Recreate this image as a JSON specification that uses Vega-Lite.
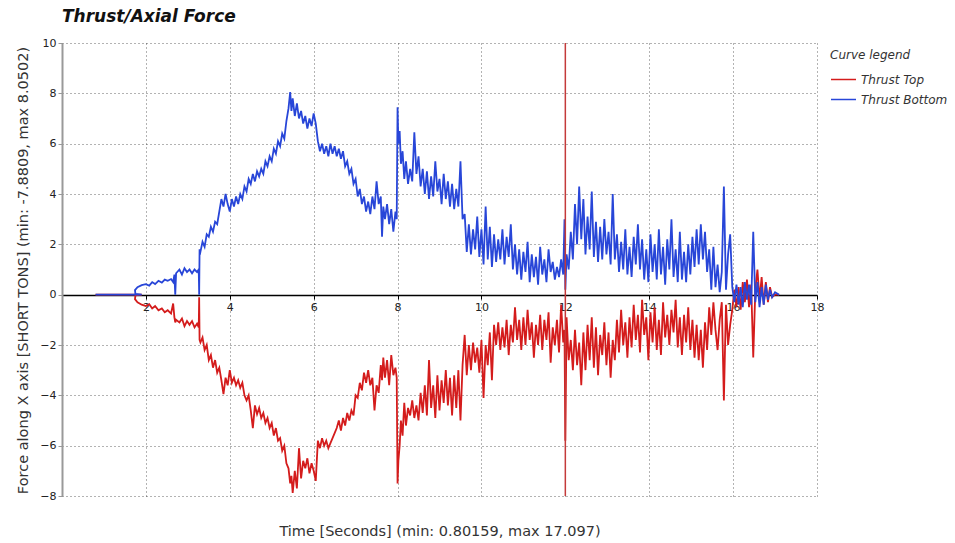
{
"$schema": "https://vega.github.io/schema/vega-lite/v6.json",
"width": 755, "height": 453,
"autosize": {"type": "none"},
"padding": {"left": 62, "top": 43, "right": 138, "bottom": 47},
"background": "white",
"title": {"text": "Thrust/Axial Force", "anchor": "start", "frame": "group", "offset": 11, "font": "DejaVu Sans", "fontSize": 17, "fontWeight": "bold", "fontStyle": "italic", "color": "#111"},
"config": {
  "font": "DejaVu Sans",
  "view": {"stroke": null},
  "axis": {"labelFont": "DejaVu Sans", "labelFontSize": 11, "labelColor": "#222", "titleFont": "DejaVu Sans", "titleFontSize": 14.5, "titleFontWeight": "normal", "titleColor": "#333", "gridColor": "#333", "gridDash": [1, 3], "gridOpacity": 0.75, "gridWidth": 1}
},
"layer": [
{
"data": {"values": [
{"t":0.8,"b":0,"r":0},{"t":1.5,"b":0,"r":0},{"t":1.9,"b":0,"r":0},{"t":1.75,"b":0.03,"r":-0.03},{"t":1.74,"b":0.18,"r":-0.18},{"t":1.8,"b":0.3,"r":-0.3},{"t":1.9,"b":0.38,"r":-0.4},{"t":2.0,"b":0.42,"r":-0.45},{"t":2.08,"b":0.36,"r":-0.38},{"t":2.15,"b":0.5,"r":-0.55},{"t":2.22,"b":0.42,"r":-0.45},{"t":2.3,"b":0.55,"r":-0.62},{"t":2.38,"b":0.48,"r":-0.55},{"t":2.45,"b":0.6,"r":-0.7},{"t":2.52,"b":0.55,"r":-0.62},{"t":2.6,"b":0.62,"r":-0.75},{"t":2.65,"b":0.5,"r":-0.35},{"t":2.68,"b":0.8,"r":-0.9},{"t":2.7,"b":0.0,"r":-1.1},{"t":2.72,"b":0.85,"r":-1.0},{"t":2.8,"b":1.0,"r":-1.1},{"t":2.86,"b":0.8,"r":-0.95},{"t":2.92,"b":1.05,"r":-1.25},{"t":2.98,"b":0.9,"r":-1.05},{"t":3.04,"b":1.0,"r":-1.2},{"t":3.1,"b":0.85,"r":-1.05},{"t":3.16,"b":1.0,"r":-1.3},{"t":3.22,"b":0.9,"r":-1.15},{"t":3.26,"b":1.0,"r":-1.3},{"t":3.27,"b":0.0,"r":-0.1},{"t":3.28,"b":1.8,"r":-1.8},
{"t":3.30,"b":1.7,"r":-1.9},{"t":3.35,"b":2.1,"r":-1.7},{"t":3.40,"b":1.9,"r":-2.2},{"t":3.45,"b":2.4,"r":-2.0},{"t":3.50,"b":2.3,"r":-2.6},{"t":3.55,"b":2.7,"r":-2.4},{"t":3.60,"b":2.5,"r":-2.9},{"t":3.65,"b":2.9,"r":-2.6},{"t":3.70,"b":2.8,"r":-3.1},{"t":3.75,"b":3.3,"r":-2.9},{"t":3.80,"b":3.8,"r":-3.4},{"t":3.85,"b":3.5,"r":-3.95},{"t":3.90,"b":4.0,"r":-3.3},{"t":3.95,"b":3.6,"r":-3.6},
{"t":4.00,"b":3.3,"r":-3.0},{"t":4.05,"b":3.8,"r":-3.5},{"t":4.10,"b":3.5,"r":-3.3},{"t":4.15,"b":3.9,"r":-3.6},{"t":4.20,"b":3.6,"r":-3.4},{"t":4.25,"b":4.0,"r":-3.7},{"t":4.30,"b":3.8,"r":-3.5},{"t":4.35,"b":4.3,"r":-4.0},{"t":4.40,"b":4.1,"r":-4.2},{"t":4.45,"b":4.6,"r":-4.0},{"t":4.50,"b":4.4,"r":-4.6},{"t":4.55,"b":4.8,"r":-5.3},{"t":4.60,"b":4.5,"r":-4.4},{"t":4.65,"b":4.9,"r":-4.75},{"t":4.70,"b":4.7,"r":-4.5},{"t":4.75,"b":5.0,"r":-4.9},{"t":4.80,"b":4.8,"r":-4.7},{"t":4.85,"b":5.3,"r":-5.1},{"t":4.90,"b":5.1,"r":-4.9},{"t":4.95,"b":5.5,"r":-5.3},
{"t":5.00,"b":5.3,"r":-5.1},{"t":5.05,"b":5.8,"r":-5.6},{"t":5.10,"b":5.6,"r":-5.3},{"t":5.15,"b":6.1,"r":-5.8},{"t":5.20,"b":5.9,"r":-5.7},{"t":5.25,"b":6.4,"r":-6.2},{"t":5.30,"b":6.2,"r":-6.0},{"t":5.35,"b":6.9,"r":-6.7},{"t":5.40,"b":7.4,"r":-6.9},{"t":5.44,"b":8.05,"r":-7.5},{"t":5.47,"b":7.3,"r":-7.2},{"t":5.50,"b":7.8,"r":-7.88},{"t":5.55,"b":7.1,"r":-7.0},{"t":5.60,"b":7.6,"r":-7.7},{"t":5.65,"b":7.0,"r":-6.1},{"t":5.70,"b":7.3,"r":-7.3},{"t":5.75,"b":6.8,"r":-6.6},{"t":5.80,"b":7.1,"r":-6.9},{"t":5.85,"b":6.6,"r":-6.5},{"t":5.90,"b":7.0,"r":-7.1},{"t":5.95,"b":6.7,"r":-6.7},
{"t":6.00,"b":7.2,"r":-7.0},{"t":6.05,"b":6.8,"r":-7.4},{"t":6.10,"b":6.1,"r":-5.8},{"t":6.15,"b":5.7,"r":-6.1},{"t":6.20,"b":6.0,"r":-5.7},{"t":6.25,"b":5.6,"r":-6.0},{"t":6.30,"b":5.9,"r":-5.8},{"t":6.35,"b":5.5,"r":-6.1},{"t":6.40,"b":6.0,"r":-5.9},{"t":6.45,"b":5.6,"r":-5.7},{"t":6.50,"b":5.9,"r":-5.5},{"t":6.55,"b":5.5,"r":-5.3},{"t":6.60,"b":5.8,"r":-5.0},{"t":6.65,"b":5.4,"r":-5.4},{"t":6.70,"b":5.7,"r":-4.9},{"t":6.75,"b":5.1,"r":-5.2},{"t":6.80,"b":5.3,"r":-4.7},{"t":6.85,"b":4.8,"r":-5.0},{"t":6.90,"b":5.0,"r":-4.6},{"t":6.95,"b":4.4,"r":-4.8},
{"t":7.00,"b":4.6,"r":-4.0},{"t":7.05,"b":3.9,"r":-4.1},{"t":7.10,"b":4.2,"r":-3.5},{"t":7.15,"b":3.6,"r":-3.8},{"t":7.20,"b":3.9,"r":-3.1},{"t":7.25,"b":3.3,"r":-3.5},{"t":7.30,"b":3.7,"r":-3.0},{"t":7.35,"b":3.2,"r":-3.6},{"t":7.40,"b":3.9,"r":-3.3},{"t":7.45,"b":3.4,"r":-4.6},{"t":7.50,"b":4.5,"r":-3.6},{"t":7.55,"b":3.6,"r":-3.9},{"t":7.60,"b":3.9,"r":-2.8},{"t":7.63,"b":2.3,"r":-3.4},{"t":7.66,"b":3.5,"r":-2.5},{"t":7.70,"b":3.0,"r":-3.3},{"t":7.75,"b":3.6,"r":-2.6},{"t":7.80,"b":2.8,"r":-3.6},{"t":7.85,"b":3.4,"r":-2.4},{"t":7.90,"b":2.5,"r":-3.2},{"t":7.95,"b":3.3,"r":-2.9},{"t":7.98,"b":3.0,"r":-3.3},
{"t":8.00,"b":7.45,"r":-7.5},{"t":8.02,"b":6.0,"r":-6.6},{"t":8.05,"b":6.5,"r":-6.0},{"t":8.08,"b":5.2,"r":-5.0},{"t":8.12,"b":5.7,"r":-5.6},{"t":8.16,"b":4.6,"r":-4.3},{"t":8.20,"b":5.3,"r":-5.2},{"t":8.25,"b":4.4,"r":-4.5},{"t":8.30,"b":5.0,"r":-4.8},{"t":8.35,"b":4.5,"r":-4.2},{"t":8.40,"b":6.45,"r":-4.9},{"t":8.45,"b":4.8,"r":-4.4},{"t":8.50,"b":5.5,"r":-5.0},{"t":8.55,"b":4.3,"r":-3.9},{"t":8.60,"b":5.0,"r":-4.7},{"t":8.65,"b":4.0,"r":-3.6},{"t":8.70,"b":4.9,"r":-4.8},{"t":8.75,"b":3.8,"r":-2.6},{"t":8.80,"b":4.7,"r":-4.5},{"t":8.85,"b":3.9,"r":-3.6},{"t":8.90,"b":5.3,"r":-4.9},{"t":8.95,"b":4.1,"r":-3.2},
{"t":9.00,"b":4.6,"r":-4.6},{"t":9.05,"b":3.6,"r":-3.4},{"t":9.10,"b":4.8,"r":-4.3},{"t":9.15,"b":3.8,"r":-3.0},{"t":9.20,"b":4.5,"r":-4.4},{"t":9.25,"b":3.5,"r":-3.3},{"t":9.30,"b":4.4,"r":-4.8},{"t":9.35,"b":3.4,"r":-3.2},{"t":9.40,"b":4.2,"r":-4.5},{"t":9.45,"b":3.5,"r":-3.0},{"t":9.50,"b":5.3,"r":-5.0},{"t":9.55,"b":3.0,"r":-2.8},{"t":9.60,"b":3.2,"r":-1.6},{"t":9.65,"b":1.7,"r":-3.2},{"t":9.70,"b":2.8,"r":-2.0},{"t":9.75,"b":1.6,"r":-3.0},{"t":9.80,"b":2.6,"r":-1.9},{"t":9.85,"b":1.8,"r":-2.7},{"t":9.90,"b":3.1,"r":-2.1},{"t":9.95,"b":1.5,"r":-3.1},
{"t":10.00,"b":2.6,"r":-1.8},{"t":10.05,"b":1.2,"r":-4.1},{"t":10.10,"b":3.5,"r":-2.0},{"t":10.15,"b":1.4,"r":-2.8},{"t":10.20,"b":2.7,"r":-1.5},{"t":10.25,"b":1.1,"r":-3.4},{"t":10.30,"b":2.4,"r":-1.2},{"t":10.35,"b":1.3,"r":-2.0},{"t":10.40,"b":2.2,"r":-1.1},{"t":10.45,"b":1.4,"r":-2.2},{"t":10.50,"b":2.6,"r":-1.3},{"t":10.55,"b":1.2,"r":-2.1},{"t":10.60,"b":2.3,"r":-1.0},{"t":10.65,"b":1.5,"r":-2.4},{"t":10.70,"b":2.8,"r":-1.2},{"t":10.75,"b":1.0,"r":-1.9},{"t":10.80,"b":2.0,"r":-0.5},{"t":10.85,"b":0.8,"r":-1.8},{"t":10.90,"b":1.8,"r":-1.0},{"t":10.95,"b":0.6,"r":-2.2},
{"t":11.00,"b":1.7,"r":-0.9},{"t":11.05,"b":0.9,"r":-2.0},{"t":11.10,"b":2.1,"r":-0.6},{"t":11.15,"b":0.5,"r":-1.8},{"t":11.20,"b":1.6,"r":-1.1},{"t":11.25,"b":0.7,"r":-2.5},{"t":11.30,"b":1.5,"r":-1.2},{"t":11.35,"b":0.4,"r":-2.0},{"t":11.40,"b":1.9,"r":-0.8},{"t":11.45,"b":0.8,"r":-2.2},{"t":11.50,"b":1.4,"r":-1.0},{"t":11.55,"b":0.5,"r":-1.8},{"t":11.60,"b":1.8,"r":-0.7},{"t":11.65,"b":0.9,"r":-2.7},{"t":11.70,"b":1.3,"r":-1.3},{"t":11.75,"b":0.6,"r":-2.0},{"t":11.80,"b":1.1,"r":-1.0},{"t":11.85,"b":0.7,"r":-2.3},{"t":11.90,"b":1.4,"r":-0.4},{"t":11.95,"b":0.8,"r":-1.9},{"t":11.98,"b":3.0,"r":-1.4},
{"t":12.00,"b":0.2,"r":-5.8},{"t":12.03,"b":1.6,"r":-0.9},{"t":12.08,"b":1.0,"r":-2.6},{"t":12.13,"b":2.5,"r":-1.8},{"t":12.18,"b":1.4,"r":-3.0},{"t":12.23,"b":3.6,"r":-1.4},{"t":12.28,"b":2.0,"r":-2.8},{"t":12.33,"b":4.3,"r":-1.9},{"t":12.38,"b":2.2,"r":-3.6},{"t":12.43,"b":3.8,"r":-1.5},{"t":12.48,"b":1.6,"r":-3.0},{"t":12.53,"b":3.1,"r":-1.2},{"t":12.58,"b":1.8,"r":-2.6},{"t":12.63,"b":4.1,"r":-0.9},{"t":12.68,"b":1.5,"r":-2.9},{"t":12.73,"b":2.9,"r":-1.3},{"t":12.78,"b":1.3,"r":-3.2},{"t":12.83,"b":2.7,"r":-1.6},{"t":12.88,"b":1.4,"r":-2.4},{"t":12.93,"b":3.0,"r":-1.1},{"t":12.98,"b":1.6,"r":-2.8},
{"t":13.03,"b":2.5,"r":-1.5},{"t":13.08,"b":1.2,"r":-3.3},{"t":13.13,"b":4.0,"r":-1.8},{"t":13.18,"b":1.4,"r":-2.6},{"t":13.23,"b":2.4,"r":-1.0},{"t":13.28,"b":0.9,"r":-2.3},{"t":13.33,"b":2.1,"r":-0.6},{"t":13.38,"b":1.0,"r":-2.0},{"t":13.43,"b":2.6,"r":-1.1},{"t":13.48,"b":0.8,"r":-2.5},{"t":13.53,"b":1.9,"r":-0.9},{"t":13.58,"b":0.7,"r":-2.1},{"t":13.63,"b":2.3,"r":-0.4},{"t":13.68,"b":1.2,"r":-1.8},{"t":13.73,"b":2.8,"r":-0.8},{"t":13.78,"b":1.0,"r":-2.3},{"t":13.83,"b":2.2,"r":-0.2},{"t":13.88,"b":0.6,"r":-1.6},{"t":13.93,"b":1.8,"r":-0.9},{"t":13.98,"b":0.5,"r":-2.6},
{"t":14.03,"b":2.4,"r":-0.7},{"t":14.08,"b":0.9,"r":-1.9},{"t":14.13,"b":2.0,"r":-0.5},{"t":14.18,"b":0.6,"r":-2.2},{"t":14.23,"b":2.6,"r":-1.0},{"t":14.28,"b":0.8,"r":-2.4},{"t":14.33,"b":1.9,"r":-0.3},{"t":14.38,"b":0.4,"r":-1.7},{"t":14.43,"b":2.2,"r":-0.8},{"t":14.48,"b":1.0,"r":-2.0},{"t":14.53,"b":3.0,"r":-0.6},{"t":14.58,"b":0.7,"r":-1.5},{"t":14.63,"b":1.8,"r":-0.2},{"t":14.68,"b":0.5,"r":-2.1},{"t":14.73,"b":2.5,"r":-0.9},{"t":14.78,"b":0.6,"r":-2.4},{"t":14.83,"b":1.7,"r":-0.8},{"t":14.88,"b":0.5,"r":-1.9},{"t":14.93,"b":2.0,"r":-0.5},{"t":14.98,"b":0.8,"r":-2.2},
{"t":15.03,"b":2.3,"r":-1.0},{"t":15.08,"b":1.1,"r":-2.5},{"t":15.13,"b":2.6,"r":-1.2},{"t":15.18,"b":1.2,"r":-2.6},{"t":15.23,"b":2.8,"r":-1.4},{"t":15.28,"b":1.4,"r":-2.9},{"t":15.33,"b":2.5,"r":-1.1},{"t":15.38,"b":0.9,"r":-2.2},{"t":15.43,"b":1.8,"r":-0.5},{"t":15.48,"b":0.2,"r":-1.6},{"t":15.53,"b":1.9,"r":-0.3},{"t":15.58,"b":0.3,"r":-1.4},{"t":15.63,"b":1.2,"r":-2.2},{"t":15.68,"b":0.1,"r":-1.0},{"t":15.73,"b":0.9,"r":-0.3},{"t":15.78,"b":4.3,"r":-4.2},{"t":15.83,"b":0.2,"r":-0.4},{"t":15.88,"b":1.6,"r":-2.0},{"t":15.93,"b":2.4,"r":-1.2},{"t":15.98,"b":0.3,"r":-0.6},
{"t":16.03,"b":-0.3,"r":0.2},{"t":16.08,"b":0.4,"r":-0.5},{"t":16.13,"b":-0.4,"r":0.3},{"t":16.18,"b":0.3,"r":-0.6},{"t":16.23,"b":-0.5,"r":0.5},{"t":16.28,"b":0.5,"r":-0.3},{"t":16.33,"b":-0.2,"r":0.6},{"t":16.38,"b":0.4,"r":-0.5},{"t":16.43,"b":-0.4,"r":0.4},{"t":16.48,"b":2.5,"r":-2.5},{"t":16.53,"b":-0.3,"r":0.2},{"t":16.58,"b":0.5,"r":1.0},{"t":16.63,"b":-0.5,"r":-0.2},{"t":16.68,"b":0.3,"r":0.7},{"t":16.73,"b":-0.4,"r":-0.4},{"t":16.78,"b":0.4,"r":0.5},{"t":16.83,"b":-0.2,"r":-0.3},{"t":16.88,"b":0.2,"r":0.3},{"t":16.93,"b":-0.1,"r":-0.1},{"t":17.0,"b":0.1,"r":0.0},{"t":17.097,"b":0,"r":0}
]},
"transform": [{"fold": ["r", "b"], "as": ["k", "v"]}],
"mark": {"type": "line", "strokeWidth": 1.8, "clip": true},
"encoding": {
  "x": {"field": "t", "type": "quantitative", "scale": {"domain": [0, 18], "nice": false, "zero": false},
        "axis": {"title": "Time [Seconds] (min: 0.80159, max 17.097)", "values": [0,2,4,6,8,10,12,14,16,18], "offset": -201, "domainColor": "#000", "domainWidth": 1.5, "tickColor": "#000", "tickSize": 4, "labelPadding": 2, "labelFlush": false, "labelExpr": "datum.value == 0 ? '' : datum.label", "titleY": 240, "titleBaseline": "alphabetic", "grid": true}},
  "y": {"field": "v", "type": "quantitative", "scale": {"domain": [-8, 10], "nice": false},
        "axis": {"title": "Force along X axis [SHORT TONS] (min: -7.8809, max 8.0502)", "values": [-8,-6,-4,-2,0,2,4,6,8,10], "domainColor": "#999", "domainWidth": 2, "tickColor": "#999", "tickSize": 4, "labelPadding": 2, "titleX": -32, "titleY": 227, "grid": true}},
  "color": {"field": "k", "type": "nominal", "scale": {"domain": ["r", "b"], "range": ["#d41c1c", "#2846d8"]},
        "legend": {"title": "Curve legend", "orient": "none", "legendX": 768, "legendY": 7, "symbolType": "stroke", "symbolSize": 625, "symbolStrokeWidth": 1.5, "labelExpr": "datum.label == 'r' ? 'Thrust Top' : 'Thrust Bottom'", "labelFontStyle": "italic", "labelFontSize": 12, "labelColor": "#333", "titleFontStyle": "italic", "titleFontWeight": "normal", "titleFontSize": 12, "titleColor": "#333", "rowPadding": -6, "labelOffset": 4, "titlePadding": 4}},
  "order": {"value": null}
}
},
{
"data": {"values": [{"t": 12}]},
"mark": {"type": "rule", "color": "#c43a3a", "strokeWidth": 1.5},
"encoding": {"x": {"field": "t", "type": "quantitative", "title": "Time [Seconds] (min: 0.80159, max 17.097)"}}
}
]
}
